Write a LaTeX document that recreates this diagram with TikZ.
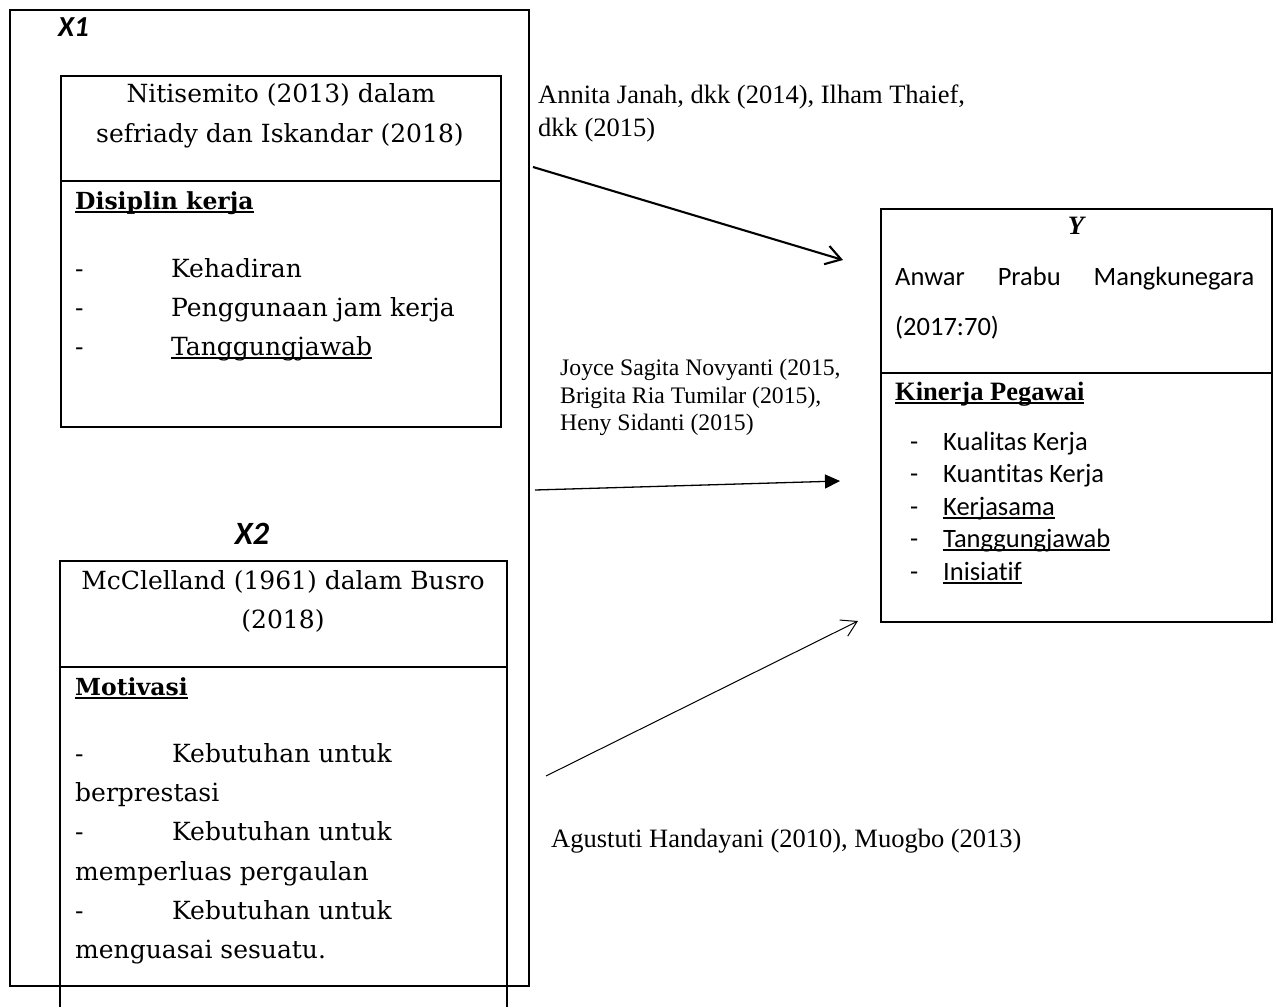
\documentclass[tikz,border=0pt]{standalone}
\usepackage{fontspec}
\setmainfont{Liberation Serif}
\newfontfamily\camfont{DejaVu Serif}
\newfontfamily\calfont[Ligatures={NoCommon}]{Carlito}
\newfontfamily\tnrfont{Liberation Serif}
\usetikzlibrary{arrows.meta}
\newcommand\ulx[1]{\setbox0=\hbox{#1}\rlap{\rule[-0.15em]{\wd0}{0.065em}}\box0}
\tikzset{
  box/.style={draw, line width=1.9pt, inner sep=0pt, anchor=north west},
  frame/.style={line width=1.9pt},
  camtxt/.style={inner sep=0pt, anchor=base west, font=\camfont\fontsize{25}{30}\selectfont},
  camc/.style={camtxt, anchor=base},
  caltxt/.style={inner sep=0pt, anchor=base west, font=\calfont\fontsize{26.5}{32}\selectfont},
  tnr/.style={inner sep=0pt, anchor=base west, font=\tnrfont\fontsize{26.5}{32}\selectfont},
  tnrs/.style={inner sep=0pt, anchor=base west, font=\tnrfont\fontsize{23.7}{28}\selectfont},
  varlab/.style={inner sep=0pt, font=\calfont\bfseries\itshape},
  openhead/.style={-{Straight Barb[length=15pt,width=19pt]}},
}
\begin{document}
\begin{tikzpicture}[x=1pt,y=-1pt]
\path[use as bounding box, fill=white] (0,0) rectangle (1277,1007);

% outer frame
\node[box, minimum width=519pt, minimum height=976pt] (outer) at (9,9) {};

% X1 block
\node[varlab, anchor=base west, font=\calfont\bfseries\itshape\fontsize{29}{32}\selectfont] (x1lab) at (58,36) {X1};
\node[box, minimum width=440pt, minimum height=351pt] (x1box) at (60,75) {};
\draw[frame] (60,181) -- (500,181);
\node[camc] (x1src1) at (281,102) {Nitisemito (2013) dalam};
\node[camc] (x1src2) at (280,142) {sefriady dan Iskandar (2018)};
\node[camtxt, font=\camfont\bfseries\fontsize{23.5}{30}\selectfont] (x1title) at (75,209) {\ulx{Disiplin kerja}};
\node[camtxt] (x1d1) at (75,277) {-};
\node[camtxt] (x1i1) at (171,277) {Kehadiran};
\node[camtxt] (x1d2) at (75,316) {-};
\node[camtxt] (x1i2) at (171,316) {Penggunaan jam kerja};
\node[camtxt] (x1d3) at (75,355) {-};
\node[camtxt] (x1i3) at (171,355) {\ulx{Tanggungjawab}};

% X2 block
\node[varlab, anchor=base, font=\calfont\bfseries\itshape\fontsize{32.5}{36}\selectfont] (x2lab) at (252,544) {X2};
\coordinate (x2bl) at (60,1007);
\coordinate (x2tl) at (60,561);
\coordinate (x2tr) at (507,561);
\coordinate (x2br) at (507,1007);
\draw[frame] (x2bl) -- (x2tl) -- (x2tr) -- (x2br);
\draw[frame] (60,667) -- (507,667);
\node[camc] (x2src1) at (283,589) {McClelland (1961) dalam Busro};
\node[camc] (x2src2) at (283,628) {(2018)};
\node[camtxt, font=\camfont\bfseries\fontsize{23.5}{30}\selectfont] (x2title) at (75,695) {\ulx{Motivasi}};
\node[camtxt] (x2d1) at (75,762) {-};
\node[camtxt] (x2i1) at (172,762) {Kebutuhan untuk};
\node[camtxt] (x2i1b) at (75,801) {berprestasi};
\node[camtxt] (x2d2) at (75,840) {-};
\node[camtxt] (x2i2) at (172,840) {Kebutuhan untuk};
\node[camtxt] (x2i2b) at (75,880) {memperluas pergaulan};
\node[camtxt] (x2d3) at (75,919) {-};
\node[camtxt] (x2i3) at (172,919) {Kebutuhan untuk};
\node[camtxt] (x2i3b) at (75,958) {menguasai sesuatu.};

% Y block
\node[box, minimum width=391pt, minimum height=413pt] (ybox) at (880,208) {};
\draw[frame] (880,373) -- (1271,373);
\node[tnr, anchor=base, font=\tnrfont\bfseries\itshape\fontsize{26.5}{32}\selectfont] (ylab) at (1076,234) {Y};
\node[caltxt] (ysrc1) at (895,285) {\hbox to 359pt{Anwar\hfill Prabu\hfill Mangkunegara}};
\node[caltxt] (ysrc2) at (895,335) {(2017:70)};
\node[tnr, font=\tnrfont\bfseries\fontsize{26.5}{32}\selectfont] (ytitle) at (895,400) {\ulx{Kinerja Pegawai}};
\node[caltxt] (yd1) at (910,450) {-};
\node[caltxt] (yi1) at (943,450) {Kualitas Kerja};
\node[caltxt] (yd2) at (910,482) {-};
\node[caltxt] (yi2) at (943,482) {Kuantitas Kerja};
\node[caltxt] (yd3) at (910,515) {-};
\node[caltxt] (yi3) at (943,515) {\ulx{Kerjasama}};
\node[caltxt] (yd4) at (910,547) {-};
\node[caltxt] (yi4) at (943,547) {\ulx{Tanggungjawab}};
\node[caltxt] (yd5) at (910,580) {-};
\node[caltxt] (yi5) at (943,580) {\ulx{Inisiatif}};

% arrows
\coordinate (a1s) at (533,167);
\coordinate (a1e) at (843,260);
\draw[line width=2.1pt, openhead] (a1s) -- (a1e);
\coordinate (a2s) at (535,490);
\coordinate (a2e) at (840,481);
\draw[line width=1.3pt, -{Triangle[length=15pt,width=14pt]}] (a2s) -- (a2e);
\coordinate (a3s) at (546,776);
\coordinate (a3e) at (858,621);
\draw[line width=1pt, -{Straight Barb[length=15pt,width=18pt]}] (a3s) -- (a3e);

% labels
\node[tnr] (l1a) at (538,103) {Annita Janah, dkk (2014), Ilham Thaief,};
\node[tnr] (l1b) at (538,136) {dkk (2015)};
\node[tnrs] (l2a) at (560,375) {Joyce Sagita Novyanti (2015,};
\node[tnrs] (l2b) at (560,403) {Brigita Ria Tumilar (2015),};
\node[tnrs] (l2c) at (560,430) {Heny Sidanti (2015)};
\node[tnr] (l3) at (551,847) {Agustuti Handayani (2010), Muogbo (2013)};
\end{tikzpicture}
\end{document}
